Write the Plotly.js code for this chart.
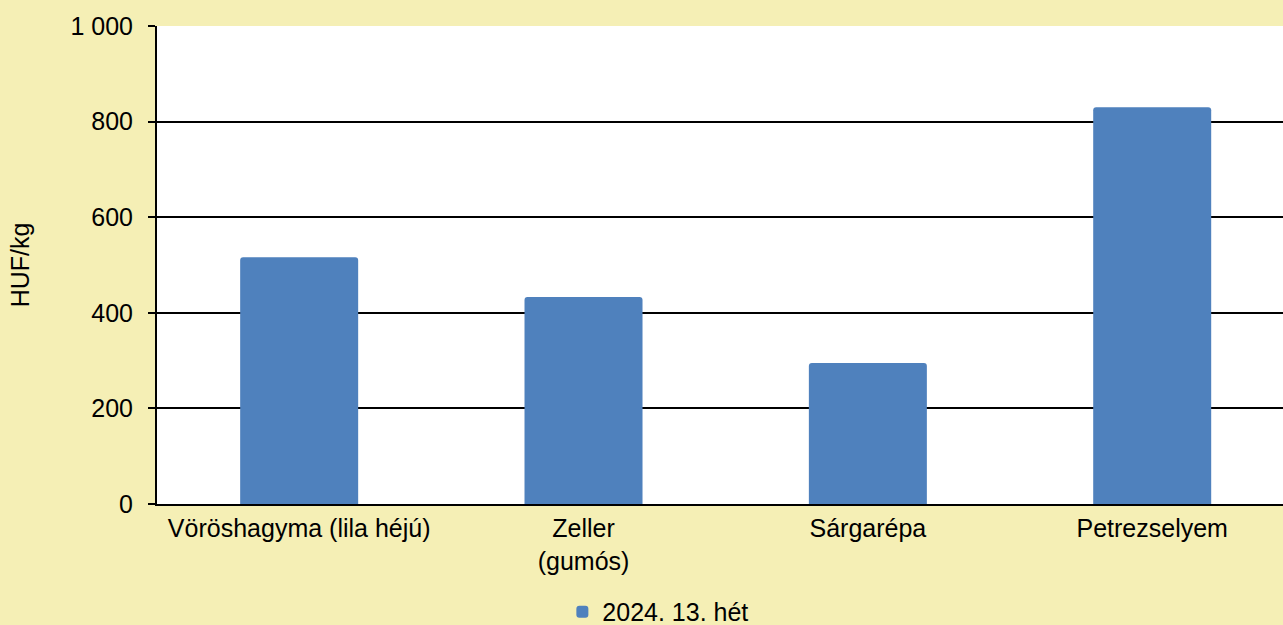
<!DOCTYPE html>
<html>
<head>
<meta charset="utf-8">
<script src="https://cdn.plot.ly/plotly-3.0.1.min.js"></script>
<style>html,body{margin:0;padding:0;background:#F5EFB5;}#chart{width:1283px;height:625px;}</style>
</head>
<body>
<div id="chart"></div>
<script>
const categories = ["Vöröshagyma (lila héjú)", "Zeller<br>(gumós)", "Sárgarépa", "Petrezselyem"];
const values = [516, 433, 295, 830];
const seriesName = "2024. 13. hét";
const yTicks = [0, 200, 400, 600, 800, 1000];

const font = {family: "Liberation Sans, Arial, sans-serif", size: 25, color: "#000000"};

Plotly.newPlot("chart", [{
  type: "bar",
  x: categories,
  y: values,
  name: seriesName,
  marker: {color: "#4F81BD", line: {width: 0}},
  showlegend: true
}], {
  width: 1283,
  height: 625,
  paper_bgcolor: "#F5EFB5",
  plot_bgcolor: "#FFFFFF",
  separators: ", ",
  font: font,
  margin: {l: 157, r: 0, t: 26, b: 121, pad: 0},
  bargap: 0.585,
  barcornerradius: 3,
  xaxis: {
    type: "category",
    range: [-0.5, 3.46],
    showline: true, linecolor: "#000000", linewidth: 2,
    ticks: "", showgrid: false,
    ticklabelstandoff: 1,
    automargin: false,
    tickfont: font
  },
  yaxis: {
    range: [0, 1000],
    tickvals: yTicks,
    tickformat: ",d",
    showline: true, linecolor: "#000000", linewidth: 2,
    ticks: "outside", ticklen: 7, tickwidth: 2, tickcolor: "#000000",
    showgrid: true, gridcolor: "#000000", gridwidth: 2,
    zeroline: false,
    ticklabelstandoff: 10,
    automargin: false,
    tickfont: font,
    title: {text: "HUF/kg", font: {family: font.family, size: 25, color: "#000000"}, standoff: 34}
  },
  showlegend: true,
  legend: {
    orientation: "h",
    x: 0.36, xanchor: "left", xref: "paper",
    y: 0.021, yanchor: "middle", yref: "container",
    font: font,
    bgcolor: "rgba(0,0,0,0)",
    itemwidth: 30
  }
}, {displayModeBar: false, staticPlot: true});
</script>
</body>
</html>
